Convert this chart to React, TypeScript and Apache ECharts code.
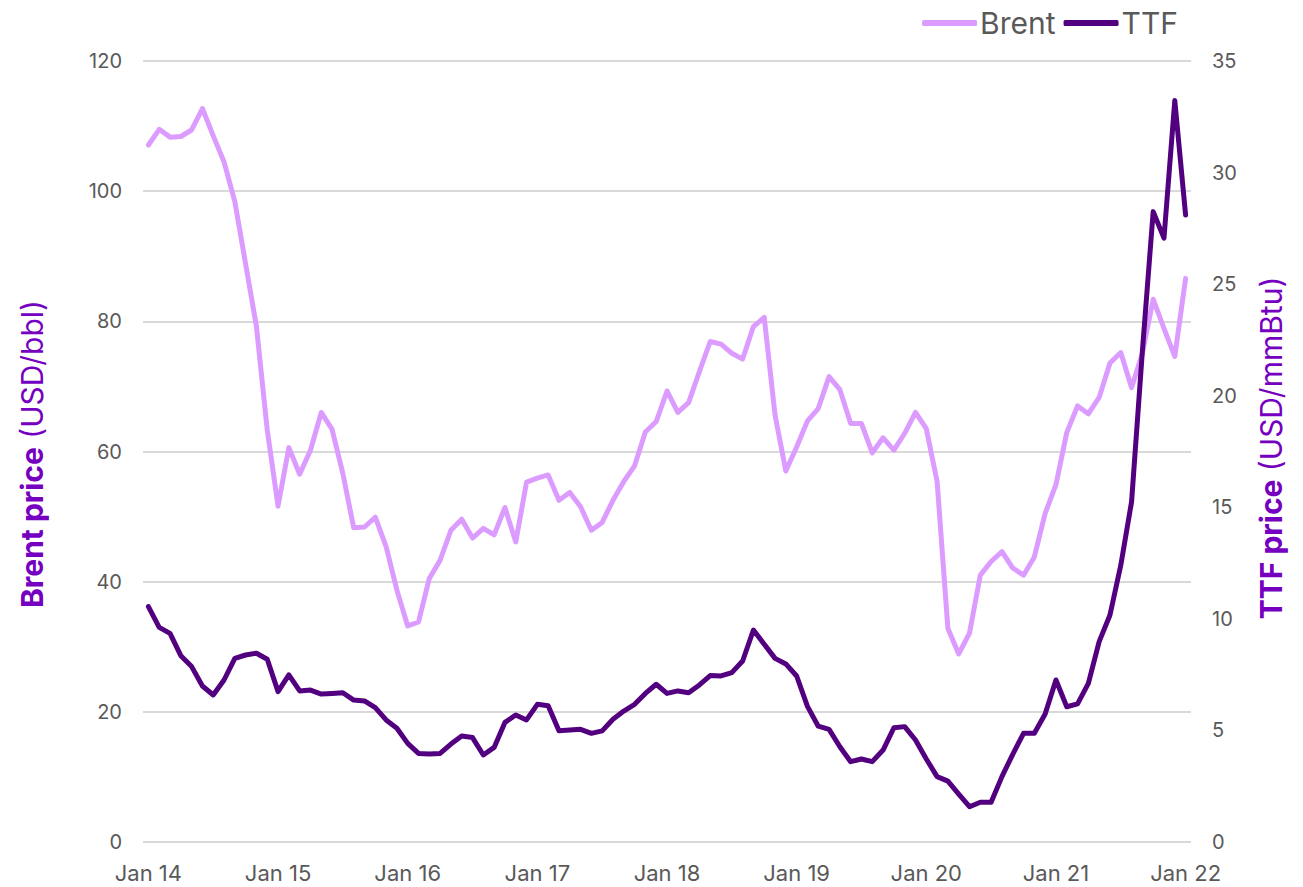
import React, { useEffect, useRef } from "react";
import * as echarts from "echarts";

const years = ["14", "15", "16", "17", "18", "19", "20", "21", "22"];
const monthNames = ["Jan", "Feb", "Mar", "Apr", "May", "Jun", "Jul", "Aug", "Sep", "Oct", "Nov", "Dec"];
const categories: string[] = [];
for (const y of years) {
  for (const m of monthNames) {
    if (y === "22" && m !== "Jan") break;
    categories.push(`${m} ${y}`);
  }
}

const brent = [
  107.1, 109.5, 108.3, 108.4, 109.4, 112.7, 108.5, 104.5, 98.4, 88.8, 79.2, 63.3,
  51.6, 60.6, 56.5, 60.2, 66.0, 63.4, 56.6, 48.3, 48.4, 49.9, 45.4, 38.7,
  33.2, 33.8, 40.5, 43.3, 47.9, 49.6, 46.7, 48.2, 47.2, 51.4, 46.1, 55.3,
  55.9, 56.4, 52.5, 53.7, 51.5, 47.9, 49.1, 52.5, 55.4, 57.8, 63.0, 64.6,
  69.3, 66.0, 67.5, 72.3, 76.9, 76.5, 75.1, 74.2, 79.2, 80.6, 65.6, 57.0,
  60.7, 64.7, 66.6, 71.5, 69.5, 64.3, 64.3, 59.8, 62.1, 60.2, 62.8, 66.0,
  63.5, 55.4, 32.8, 28.9, 32.1, 41.0, 43.1, 44.6, 42.1, 41.0, 43.8, 50.5,
  54.9, 62.9, 67.0, 65.8, 68.3, 73.6, 75.2, 69.8, 75.1, 83.4, 78.9, 74.6,
  86.6,
];

const ttf = [
  10.55, 9.62, 9.35, 8.35, 7.86, 6.99, 6.59, 7.26, 8.23, 8.38, 8.46, 8.19,
  6.74, 7.49, 6.77, 6.81, 6.63, 6.66, 6.69, 6.36, 6.32, 6.02, 5.47, 5.1,
  4.42, 3.97, 3.94, 3.97, 4.39, 4.75, 4.68, 3.9, 4.24, 5.36, 5.69, 5.47,
  6.17, 6.11, 4.99, 5.02, 5.05, 4.87, 4.98, 5.5, 5.87, 6.17, 6.66, 7.07,
  6.66, 6.77, 6.69, 7.04, 7.46, 7.44, 7.59, 8.11, 9.5, 8.86, 8.23, 7.98,
  7.44, 6.08, 5.19, 5.05, 4.27, 3.6, 3.72, 3.6, 4.12, 5.12, 5.17, 4.57,
  3.72, 2.93, 2.73, 2.15, 1.58, 1.78, 1.78, 2.93, 3.93, 4.87, 4.87, 5.74,
  7.26, 6.06, 6.19, 7.11, 8.98, 10.17, 12.4, 15.25, 22.0, 28.25, 27.06, 33.23,
  28.1,
];

const leftTitle = ["Brent price", "(USD/bbl)"];
const rightTitle = ["TTF price", "(USD/mmBtu)"];

const FONT = "Inter, 'Noto Sans', sans-serif";
const BRENT_COLOR = "#dc9cff";
const TTF_COLOR = "#52007f";
const TITLE_COLOR = "#7500c0";
const LABEL_COLOR = "#595959";

const titleRich = {
  b: { fontSize: 30, fontWeight: "bold", fill: TITLE_COLOR, color: TITLE_COLOR, fontFamily: FONT },
  n: { fontSize: 30, fill: TITLE_COLOR, color: TITLE_COLOR, fontFamily: FONT },
};

export default function App() {
  const ref = useRef<HTMLDivElement>(null);
  useEffect(() => {
    if (!ref.current) return;
    const chart = echarts.init(ref.current, null, { renderer: "svg" });
    chart.setOption({
      animation: false,
      textStyle: { fontFamily: FONT },
      grid: { left: 143, right: 112, top: 61, bottom: 45, containLabel: false },
      legend: {
        top: 3,
        right: 120,
        itemWidth: 55,
        itemHeight: 6,
        itemGap: 8,
        icon: "roundRect",
        textStyle: { fontSize: 30, color: LABEL_COLOR, fontFamily: FONT, padding: [0, 0, 0, -2] },
        data: [
          { name: "Brent", itemStyle: { color: BRENT_COLOR } },
          { name: "TTF", itemStyle: { color: TTF_COLOR } },
        ],
      },
      graphic: [
        {
          type: "text",
          x: 32,
          y: 454,
          rotation: Math.PI / 2,
          style: {
            text: `{b|${leftTitle[0]}} {n|${leftTitle[1]}}`,
            rich: titleRich,
            align: "center",
            verticalAlign: "middle",
            fill: TITLE_COLOR,
            font: `30px ${FONT}`,
          },
        },
        {
          type: "text",
          x: 1271,
          y: 448,
          rotation: Math.PI / 2,
          style: {
            text: `{b|${rightTitle[0]}} {n|${rightTitle[1]}}`,
            rich: titleRich,
            align: "center",
            verticalAlign: "middle",
            fill: TITLE_COLOR,
            font: `30px ${FONT}`,
          },
        },
      ],
      xAxis: {
        type: "category",
        data: categories,
        boundaryGap: true,
        axisLine: { show: false },
        axisTick: { show: false },
        axisLabel: {
          interval: 11,
          fontSize: 22,
          color: LABEL_COLOR,
          margin: 20,
          fontFamily: FONT,
        },
        splitLine: { show: false },
      },
      yAxis: [
        {
          type: "value",
          min: 0,
          max: 120,
          interval: 20,
          axisLine: { show: false },
          axisTick: { show: false },
          axisLabel: { fontSize: 20, color: LABEL_COLOR, margin: 21, fontFamily: FONT },
          splitLine: { show: true, lineStyle: { color: "#d9d9d9", width: 2 } },
        },
        {
          type: "value",
          min: 0,
          max: 35,
          interval: 5,
          axisLine: { show: false },
          axisTick: { show: false },
          axisLabel: { fontSize: 20, color: LABEL_COLOR, margin: 21, fontFamily: FONT },
          splitLine: { show: false },
        },
      ],
      series: [
        {
          name: "Brent",
          type: "line",
          yAxisIndex: 0,
          data: brent,
          showSymbol: false,
          symbol: "none",
          lineStyle: { color: BRENT_COLOR, width: 5, cap: "round", join: "round" },
          itemStyle: { color: BRENT_COLOR },
        },
        {
          name: "TTF",
          type: "line",
          yAxisIndex: 1,
          data: ttf,
          showSymbol: false,
          symbol: "none",
          lineStyle: { color: TTF_COLOR, width: 5, cap: "round", join: "round" },
          itemStyle: { color: TTF_COLOR },
        },
      ],
    });
    return () => chart.dispose();
  }, []);
  return (
    <div
      ref={ref}
      style={{ position: "absolute", left: 0, top: 0, width: 1303, height: 887, background: "#fff" }}
    />
  );
}
